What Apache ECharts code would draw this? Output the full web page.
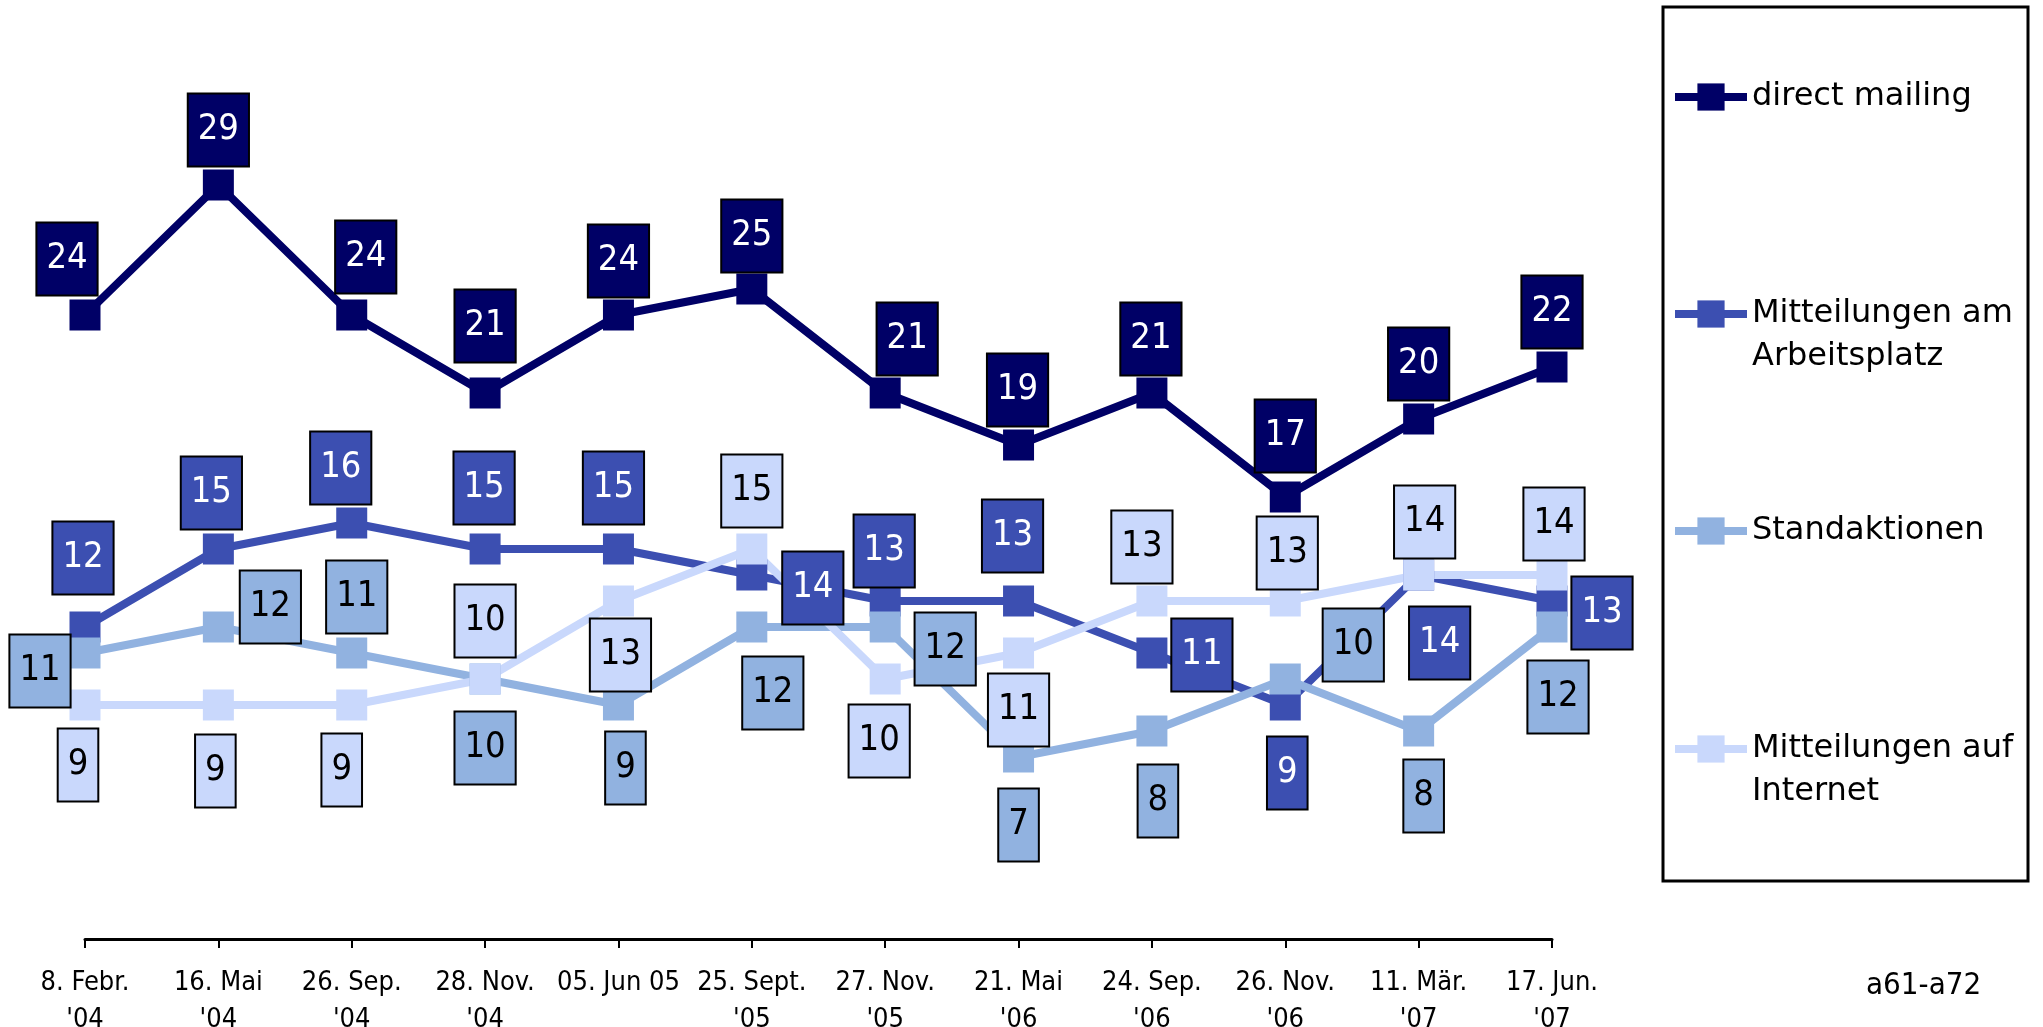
<!DOCTYPE html>
<html><head><meta charset="utf-8">
<script src="https://cdn.jsdelivr.net/npm/echarts@6/dist/echarts.min.js"></script>
<style>html,body{margin:0;padding:0;background:#fff}#c{width:2043px;height:1027px}</style>
</head><body><div id="c"></div>
<script>
// ---- data ----
const categories = ["8. Febr.\n'04", "16. Mai\n'04", "26. Sep.\n'04", "28. Nov.\n'04", "05. Jun 05", "25. Sept.\n'05", "27. Nov.\n'05", "21. Mai\n'06", "24. Sep.\n'06", "26. Nov.\n'06", "11. Mär.\n'07", "17. Jun.\n'07"];
const seriesNames = ['direct mailing', 'Mitteilungen am Arbeitsplatz', 'Standaktionen', 'Mitteilungen auf Internet'];
const directMailing = [24, 29, 24, 21, 24, 25, 21, 19, 21, 17, 20, 22];
const arbeitsplatz  = [12, 15, 16, 15, 15, 14, 13, 13, 11, 9, 14, 13];
const standaktionen = [11, 12, 11, 10, 9, 12, 12, 7, 8, 10, 8, 12];
const internet      = [9, 9, 9, 10, 13, 15, 10, 11, 13, 13, 14, 14];
const noteText = 'a61-a72';

// ---- layout (label box shifts relative to each marker, px) ----
const shiftDM = [[-18,-56],[0,-55],[14,-58],[0,-67],[0,-54],[0,-53],[22,-54],[-1,-55],[-1,-54],[0,-61],[0,-55],[0,-55]];
const shiftAP = [[-2,-69],[-7,-56],[-11,-55],[-1,-61],[-5,-61],[61,13],[-1,-50],[-6,-65],[50,2],[2,68],[21,68],[50,12]];
const shiftST = [[-45,18],[52,-20],[5,-56],[0,69],[7,63],[21,66],[60,22],[0,68],[6,70],[68,-34],[5,65],[6,70]];
const shiftIN = [[-7,60],[-3,66],[-10,65],[0,-58],[2,54],[0,-58],[-6,62],[0,57],[-10,-54],[2,-48],[6,-53],[2,-51]];
const colors = ['#000066', '#3C4FB1', '#91B2E0', '#C9D8FC'];
const textColors = ['#ffffff', '#ffffff', '#000000', '#000000'];
const legendTops = [75.5, 249.5, 509.5, 684.5];
// leading blank line keeps the first text line level with the legend marker
const legendWrap = {
  'direct mailing': 'direct mailing',
  'Mitteilungen am Arbeitsplatz': ' \nMitteilungen am\nArbeitsplatz',
  'Standaktionen': 'Standaktionen',
  'Mitteilungen auf Internet': ' \nMitteilungen auf\nInternet'
};

const COND = "'DejaVu Sans Condensed', 'Liberation Sans Narrow', sans-serif";

function mk(idx, values, shifts) {
  const color = colors[idx];
  return {
    type: 'line', name: seriesNames[idx],
    data: values.map((v, i) => ({ value: v, label: { offset: shifts[i] } })),
    symbol: 'rect', symbolSize: 31, showAllSymbol: true,
    lineStyle: { color: color, width: 8 },
    itemStyle: { color: color },
    label: {
      show: true, position: 'inside', color: textColors[idx],
      fontFamily: COND, fontSize: 36, lineHeight: 35,
      backgroundColor: color, borderColor: '#000', borderWidth: 2, padding: [18, 9]
    },
    emphasis: { disabled: true },
    animation: false
  };
}

const chart = echarts.init(document.getElementById('c'), null, { renderer: 'canvas' });
chart.setOption({
  backgroundColor: '#ffffff',
  animation: false,
  grid: { left: 85, right: 491, top: 29, bottom: 88, containLabel: false, outerBoundsMode: 'none' },
  xAxis: {
    type: 'category', data: categories, boundaryGap: false,
    axisLine: { lineStyle: { color: '#000', width: 3 } },
    axisTick: { show: true, length: 9, interval: 0, lineStyle: { color: '#000', width: 2 } },
    axisLabel: { color: '#000', fontFamily: COND, fontSize: 27, lineHeight: 37, margin: 25, interval: 0 }
  },
  yAxis: { type: 'value', min: 0, max: 35, show: false },
  legend: seriesNames.map((n, i) => ({
    data: [n], left: 1671, top: legendTops[i], orient: 'vertical', padding: 0,
    itemWidth: 72, itemHeight: 34, itemGap: 0, selectedMode: false,
    lineStyle: { width: 8 },
    formatter: (name) => legendWrap[name],
    textStyle: {
      fontFamily: "'DejaVu Sans', Verdana, sans-serif", fontSize: 32, color: '#000', lineHeight: 43
    }
  })),
  graphic: [
    { type: 'rect', silent: true, shape: { x: 1663, y: 7, width: 365, height: 874 },
      style: { fill: 'none', stroke: '#000', lineWidth: 3 } },
    { type: 'text', silent: true,
      style: { x: 1866, y: 986, text: noteText, fill: '#000', verticalAlign: 'middle',
               font: "31px 'DejaVu Sans Condensed', 'Liberation Sans Narrow', sans-serif" } }
  ],
  series: [
    mk(0, directMailing, shiftDM),
    mk(1, arbeitsplatz, shiftAP),
    mk(2, standaktionen, shiftST),
    mk(3, internet, shiftIN)
  ]
});
</script></body></html>
